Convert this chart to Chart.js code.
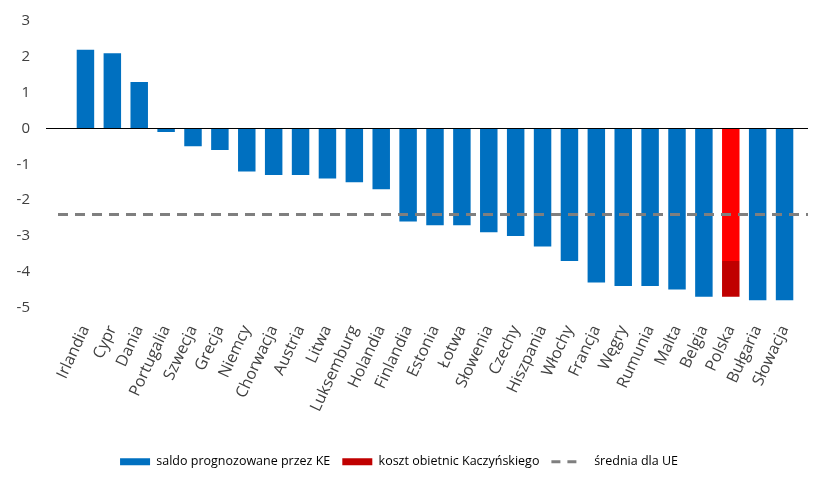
<!DOCTYPE html>
<html>
<head>
<meta charset="utf-8">
<script src="https://cdn.jsdelivr.net/npm/chart.js@4/dist/chart.umd.min.js"></script>
<style>
  html,body{margin:0;padding:0;background:#fff;}
  #wrap{width:840px;height:480px;position:relative;}
</style>
</head>
<body>
<div id="wrap"><canvas id="saldoChart"></canvas></div>
<script>
/* ── DATA ── */
const countries = ['Irlandia','Cypr','Dania','Portugalia','Szwecja','Grecja','Niemcy','Chorwacja','Austria','Litwa',
  'Luksemburg','Holandia','Finlandia','Estonia','Łotwa','Słowenia','Czechy','Hiszpania','Włochy','Francja',
  'Węgry','Rumunia','Malta','Belgia','Polska','Bułgaria','Słowacja'];
// saldo prognozowane przez KE (% PKB)
const saldoKE = [2.2,2.1,1.3,-0.1,-0.5,-0.6,-1.2,-1.3,-1.3,-1.4,
  -1.5,-1.7,-2.6,-2.7,-2.7,-2.9,-3.0,-3.3,-3.7,-4.3,
  -4.4,-4.4,-4.5,-4.7,-3.7,-4.8,-4.8];
// koszt obietnic Kaczyńskiego (only Polska)
const kosztObietnic = [0,0,0,0,0,0,0,0,0,0,0,0,0,0,0,0,0,0,0,0,0,0,0,0,-1.0,0,0];
const sredniaUE = -2.4;
const yTicks = [-5,-4,-3,-2,-1,0,1,2,3];

const BLUE='#0070C0', RED='#FF0000', DARKRED='#C00000', GREY='#7F7F7F';
const FONT="'Open Sans', 'Liberation Sans', sans-serif";

/* ── axis line at 0 + EU average line ── */
const refLines = {
  id:'refLines',
  afterDatasetsDraw(chart){
    const {ctx, chartArea:a, scales:{y}} = chart;
    ctx.save();
    // zero axis
    const y0 = Math.round(y.getPixelForValue(0))+0.5;
    ctx.strokeStyle='#000'; ctx.lineWidth=1.2;
    ctx.beginPath(); ctx.moveTo(a.left-26,y0); ctx.lineTo(a.right+10,y0); ctx.stroke();
    // average
    const ya = y.getPixelForValue(sredniaUE);
    ctx.strokeStyle=GREY; ctx.lineWidth=3; ctx.setLineDash([10,7]);
    ctx.beginPath(); ctx.moveTo(a.left-14,ya); ctx.lineTo(a.right+10,ya); ctx.stroke();
    ctx.restore();
  }
};

new Chart(document.getElementById('saldoChart').getContext('2d'),{
  type:'bar',
  data:{
    labels:countries,
    datasets:[
      { label:'saldo prognozowane przez KE', data:saldoKE,
        backgroundColor: countries.map(c=>c==='Polska'?RED:BLUE),
        barPercentage:0.65, categoryPercentage:1 },
      { label:'koszt obietnic Kaczyńskiego', data:kosztObietnic,
        backgroundColor:DARKRED, barPercentage:0.65, categoryPercentage:1 }
    ]
  },
  options:{
    responsive:true, maintainAspectRatio:false, animation:false,
    layout:{padding:{left:0,right:42,top:21,bottom:2}},
    plugins:{
      tooltip:{enabled:false},
      legend:{
        position:'bottom',
        labels:{
          usePointStyle:true, pointStyleWidth:30, boxHeight:7, padding:12,
          color:'#404040', font:{family:FONT,size:12.5},
          generateLabels(){
            return [
              {text:'saldo prognozowane przez KE', fillStyle:BLUE, strokeStyle:BLUE, lineWidth:0, pointStyle:'rect', datasetIndex:0},
              {text:'koszt obietnic Kaczyńskiego', fillStyle:DARKRED, strokeStyle:DARKRED, lineWidth:0, pointStyle:'rect', datasetIndex:1},
              {text:'  średnia dla UE', fillStyle:'rgba(0,0,0,0)', strokeStyle:GREY, lineWidth:3, lineDash:[9,7], pointStyle:'line'}
            ];
          }
        }
      }
    },
    scales:{
      x:{
        stacked:true,
        grid:{display:false}, border:{display:false},
        ticks:{color:'#404040', font:{family:FONT,size:16}, minRotation:65, maxRotation:65, padding:7, autoSkip:false},
        afterFit(s){ s.height=136; }
      },
      y:{
        stacked:true, min:-5, max:3,
        grid:{display:false}, border:{display:false},
        afterBuildTicks(s){ s.ticks = yTicks.map(v=>({value:v})); },
        ticks:{color:'#404040', font:{family:FONT,size:15}, padding:34},
        afterFit(s){ s.width=72; s.paddingTop=10; s.paddingBottom=10; }
      }
    }
  },
  plugins:[refLines]
});
</script>
</body>
</html>
